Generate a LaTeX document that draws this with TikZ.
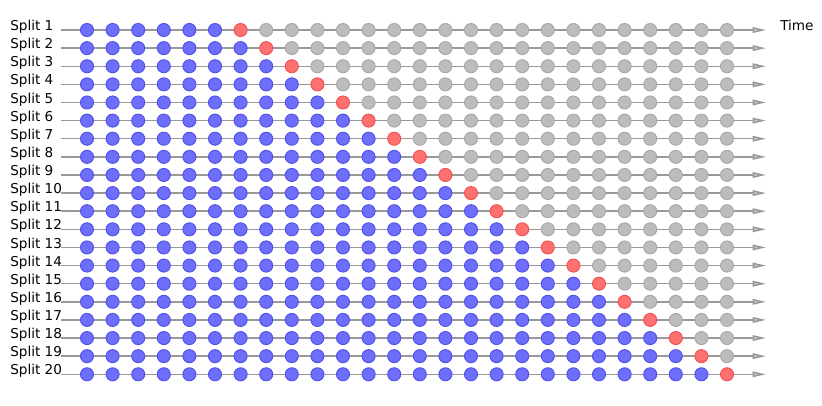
\documentclass[tikz,border=0pt]{standalone}
\usepackage{fontspec}
\setmainfont{DejaVu Sans}
\definecolor{trainblue}{RGB}{110, 110, 250}
\definecolor{trainedge}{RGB}{80, 80, 235}
\definecolor{testred}{RGB}{255, 112, 112}
\definecolor{testedge}{RGB}{240, 80, 80}
\definecolor{restgray}{RGB}{188, 188, 188}
\definecolor{restedge}{RGB}{168, 168, 168}
\usetikzlibrary{arrows.meta}

\begin{document}
\begin{tikzpicture}[x=0.75pt, y=-0.75pt,
  dot/.style={circle, minimum size=9.8pt, inner sep=0pt, line width=0.7pt},
  train/.style={dot, draw=trainedge, fill=trainblue},
  test/.style={dot, draw=testedge, fill=testred},
  rest/.style={dot, draw=restedge, fill=restgray},
  timeline/.style={draw=gray!80, line width=1.1pt, -{Triangle[length=10pt, width=4.2pt, fill=gray!45]}},
  lbl/.style={font=\fontsize{10.2pt}{12pt}\selectfont, anchor=base west, inner sep=0pt}]
  \useasboundingbox (0,0) rectangle (822,405);

  % Time axis label
  \node[lbl] (time) at (780, 30) {Time};

  % One time line per split
  \foreach \k in {1,...,20} {
    \pgfmathsetmacro{\yy}{30+(\k-1)*18.12}
    \node[lbl] (split\k) at (10, \yy+0.6) {Split \k};
    \coordinate (start\k) at (61, \yy);
    \coordinate (end\k) at (766, \yy);
    \draw[timeline] (start\k) -- (end\k);
    % train / test / unused points
    \foreach \j in {1,...,26} {
      \pgfmathsetmacro{\xx}{87+(\j-1)*25.6}
      \ifnum\j<\numexpr\k+6\relax
        \def\kind{train}%
      \else
        \ifnum\j=\numexpr\k+6\relax
          \def\kind{test}%
        \else
          \def\kind{rest}%
        \fi
      \fi
      \node[\kind] (p\k-\j) at (\xx, \yy) {};
    }
  }
\end{tikzpicture}
\end{document}
